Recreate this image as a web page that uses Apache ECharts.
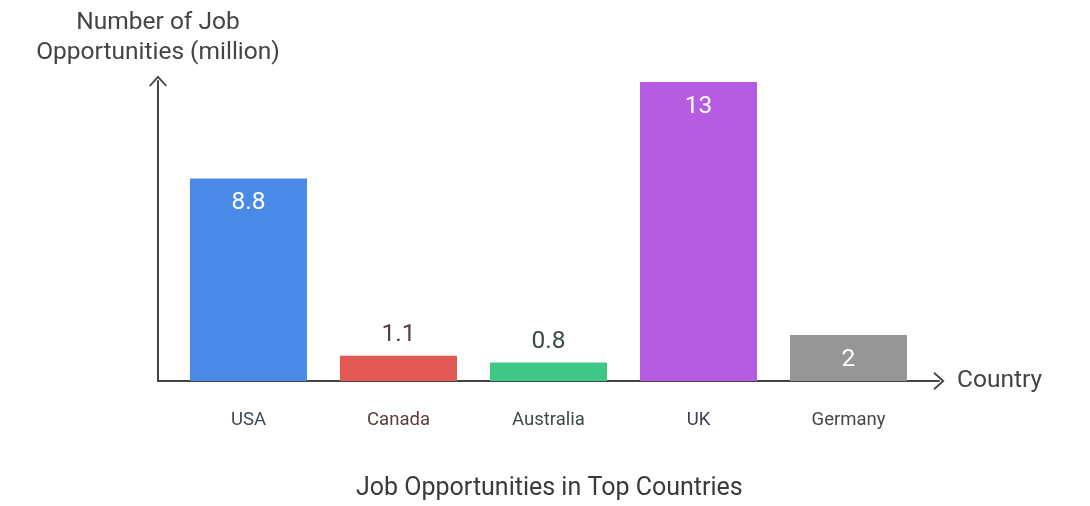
<!DOCTYPE html>
<html>
<head>
<meta charset="utf-8">
<script src="https://cdn.jsdelivr.net/npm/echarts@6/dist/echarts.min.js"></script>
<style>html,body{margin:0;padding:0;background:#fff}#c{width:1090px;height:506px}</style>
</head>
<body>
<div id="c"></div>
<script>
const categories = ['USA', 'Canada', 'Australia', 'UK', 'Germany'];
const values = [8.8, 1.1, 0.8, 13, 2];
const barColors = ['#4a89e8', '#e35a54', '#3ec786', '#b55ce3', '#969696'];
const labelColors = ['#3d4859', '#5a3c3c', '#3c4a45', '#433c57', '#474747'];
const labelInside = [true, false, false, true, true];
const chartTitle = 'Job Opportunities in Top Countries';
const xName = 'Country';
const yName = 'Number of Job\nOpportunities (million)';

const chevron = 'path://M0 10 L9 0 L18 10 L16.6 11.2 L9 2.8 L1.4 11.2 Z';
const axisColor = '#444444';
const font = 'Roboto, "Noto Sans", sans-serif';

const chart = echarts.init(document.getElementById('c'));
chart.setOption({
  animation: false,
  textStyle: { fontFamily: font },
  title: {
    text: chartTitle, left: 351, top: 471,
    textStyle: { fontFamily: font, fontSize: 25, fontWeight: 'normal', color: '#3a3a3a' }
  },
  grid: [
    { left: 173.5, right: 166.5, top: 82, bottom: 125 },
    { left: 158, right: 151, top: 81, bottom: 125 }
  ],
  xAxis: [
    {
      type: 'category', gridIndex: 0, data: categories,
      axisLine: { show: false }, axisTick: { show: false },
      axisLabel: {
        margin: 30, fontSize: 18.5, fontFamily: font,
        color: (v, i) => labelColors[i]
      }
    },
    {
      type: 'value', gridIndex: 1, min: 0, max: 1,
      axisLine: { show: true, symbol: ['none', chevron], symbolSize: [18, 11.2],
        lineStyle: { color: axisColor, width: 2 } },
      axisTick: { show: false }, axisLabel: { show: false }, splitLine: { show: false },
      name: xName, nameLocation: 'end', nameGap: 18,
      nameTextStyle: { fontSize: 24.5, color: '#444', fontFamily: font, verticalAlign: 'middle',
        padding: [8, 0, 0, 0] }
    }
  ],
  yAxis: [
    {
      type: 'value', gridIndex: 0, min: 0, max: 13,
      show: false, splitLine: { show: false }
    },
    {
      type: 'value', gridIndex: 1, min: 0, max: 1,
      axisLine: { show: true, symbol: ['none', chevron], symbolSize: [18, 11.2],
        lineStyle: { color: axisColor, width: 2 } },
      axisTick: { show: false }, axisLabel: { show: false }, splitLine: { show: false },
      name: yName, nameLocation: 'end', nameGap: 13,
      nameTextStyle: { fontSize: 24.5, lineHeight: 30, color: '#444', fontFamily: font,
        align: 'center', verticalAlign: 'bottom' }
    }
  ],
  series: [{
    type: 'bar', xAxisIndex: 0, yAxisIndex: 0,
    barWidth: '78%',
    data: values.map((v, i) => ({
      value: v,
      itemStyle: { color: barColors[i] },
      label: labelInside[i]
        ? { show: true, position: 'insideTop', distance: 12, color: '#ffffff', fontSize: 24.5 }
        : { show: true, position: 'top', distance: 8, color: labelColors[i], fontSize: 24.5 }
    })),
    label: { fontFamily: font }
  }]
});
</script>
</body>
</html>
